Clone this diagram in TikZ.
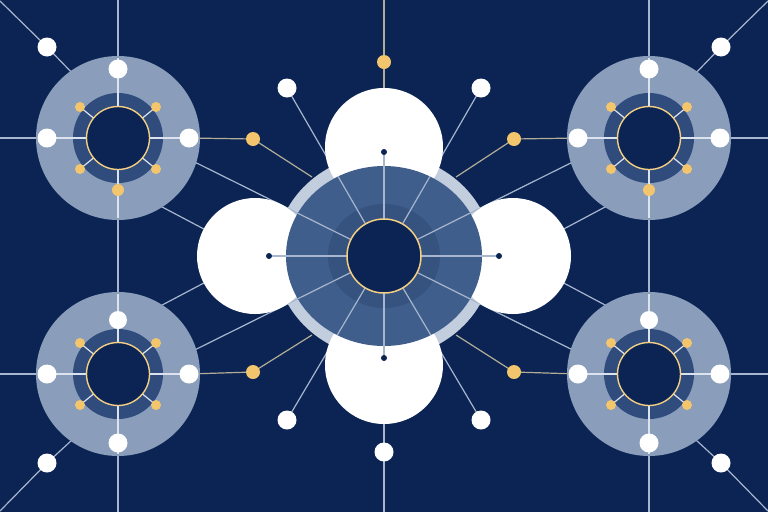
\documentclass[tikz,border=0pt]{standalone}
\usetikzlibrary{calc}
\definecolor{navy}{HTML}{0B2453}
\definecolor{clpale}{HTML}{8A9DBB}
\definecolor{clring}{HTML}{2F4C7D}
\definecolor{cmed}{HTML}{3F5E8B}
\definecolor{cdark}{HTML}{36537F}
\definecolor{cpale}{HTML}{C2CDDE}
\definecolor{gold}{HTML}{F3C66D}
\definecolor{lnlight}{HTML}{A7B6CE}
\definecolor{lntan}{HTML}{B3AD97}
\definecolor{lnpale}{HTML}{DCE3EE}
\tikzset{
  ln/.style={draw=lnlight, line width=1.2pt},
  lngold/.style={draw=lntan, line width=1.2pt},
  lnon/.style={draw=lnpale, line width=1.2pt},
  spoke/.style={draw=lnlight, line width=1.2pt},
  wdot/.style={circle, fill=white, inner sep=0pt, minimum size=19pt},
  gdot/.style={circle, fill=gold, inner sep=0pt, minimum size=14pt},
  sgdot/.style={circle, fill=gold, inner sep=0pt, minimum size=10pt},
  ndot/.style={circle, fill=navy, inner sep=0pt, minimum size=6pt},
}
\begin{document}
\begin{tikzpicture}[x=1pt,y=-1pt]
\useasboundingbox (0,0) rectangle (768,512);
\fill[navy] (0,0) rectangle (768,512);
% ---- coordinates
\coordinate (C) at (384,256);
\coordinate (TL) at (118,138); \coordinate (TR) at (649,138);
\coordinate (BL) at (118,374); \coordinate (BR) at (649,374);
\coordinate (aTL) at (118,124); \coordinate (aTR) at (649,124);
\coordinate (aBL) at (118,388); \coordinate (aBR) at (649,388);
\coordinate (gTL) at (253,139); \coordinate (gTR) at (514,139);
\coordinate (gBL) at (253,372); \coordinate (gBR) at (514,372);
\coordinate (eTL) at (312,177); \coordinate (eTR) at (456,177);
\coordinate (eBL) at (312,335); \coordinate (eBR) at (456,335);
\coordinate (wTL) at (287,88); \coordinate (wTR) at (481,88);
\coordinate (wBL) at (287,420); \coordinate (wBR) at (481,420);
\coordinate (WT) at (384,147); \coordinate (WB) at (384,365);
\coordinate (WL) at (255,256); \coordinate (WR) at (513,256);
\coordinate (dT) at (384,152); \coordinate (dB) at (384,358);
\coordinate (dL) at (269,256); \coordinate (dR) at (499,256);
\coordinate (bTL) at (130,190); \coordinate (bBL) at (130,322);
\coordinate (bTR) at (637,190); \coordinate (bBR) at (637,322);
\coordinate (topG) at (384,62); \coordinate (botW) at (384,452);
\coordinate (top0) at (384,0); \coordinate (bot0) at (384,512);
\coordinate (kTL) at (47,47); \coordinate (kTR) at (721,47);
\coordinate (kBL) at (47,463); \coordinate (kBR) at (721,463);
% ---- central pale ring
\fill[cpale] (C) ellipse [x radius=109pt, y radius=102pt];
% ---- background lines
\draw[lngold] (top0) -- (WT);
\draw[ln] (WB) -- (bot0);
\foreach \x in {118,649} \draw[ln] (\x,0) -- (\x,512);
\draw[ln] (0,138) -- (189,138); \draw[lngold] (189,138) -- (gTL);
\draw[ln] (0,374) -- (189,374); \draw[lngold] (189,374) -- (gBL);
\draw[ln] (768,138) -- (578,138); \draw[lngold] (578,138) -- (gTR);
\draw[ln] (768,374) -- (578,374); \draw[lngold] (578,374) -- (gBR);
\foreach \g/\e in {gTL/eTL,gTR/eTR,gBL/eBL,gBR/eBR} \draw[lngold] (\g) -- (\e);
\foreach \p in {aTL,aTR,aBL,aBR,wTL,wTR,wBL,wBR} \draw[ln] (C) -- (\p);
\draw[ln] (WL) -- (bTL); \draw[ln] (WL) -- (bBL);
\draw[ln] (WR) -- (bTR); \draw[ln] (WR) -- (bBR);
\draw[ln] (0,1) -- (kTL) -- (76,77);
\draw[ln] (768,1) -- (kTR) -- (692,77);
\draw[ln] (0,511) -- (kBL) -- (72,440);
\draw[ln] (768,511) -- (kBR) -- (696,440);
% ---- clusters
\foreach \n/\cx/\cy/\s in {TL/118/138/1, TR/649/138/1, BL/118/374/-1, BR/649/374/-1}{
  \fill[clpale] (\cx,\cy) circle (82pt);
  \fill[clring] (\cx,\cy) circle (45pt);
  \draw[lnon] (\cx,\cy-80) -- (\cx,\cy+80);
  \draw[lnon] (\cx-80,\cy) -- (\cx+80,\cy);
  \foreach \dx/\dy in {-38/-31,38/-31,-38/31,38/31}
    \draw[lnon] (\cx,\cy) -- (\cx+\dx,\cy+\dy);
  \filldraw[fill=navy, draw=gold!85!white, line width=1.4pt] (\cx,\cy) circle (31.5pt);
  \foreach \dx/\dy [count=\i] in {-38/-31,38/-31,-38/31,38/31}
    \node[sgdot] (\n-g\i) at (\cx+\dx,\cy+\dy) {};
  \node[wdot] (\n-l) at (\cx-71,\cy) {};
  \node[wdot] (\n-r) at (\cx+71,\cy) {};
  \node[wdot] (\n-o) at (\cx,\cy-69*\s) {};
  \ifnum\s=1
    \node[sgdot, minimum size=12pt] (\n-i) at (\cx,\cy+52) {};
  \else
    \node[wdot, minimum size=18pt] (\n-i) at (\cx,\cy-54) {};
  \fi
}
% ---- central white circles
\fill[white] (WT) circle (59pt);
\fill[white] (WB) circle (59pt);
\fill[white] (WL) circle (58pt);
\fill[white] (WR) circle (58pt);
% ---- central disks
\fill[cmed] (C) ellipse [x radius=98pt, y radius=90pt];
\fill[cdark] (C) ellipse [x radius=56pt, y radius=52pt];
\begin{scope}
  \clip (C) ellipse [x radius=98pt, y radius=90pt];
  \foreach \p in {aTL,aTR,aBL,aBR,wTL,wTR,wBL,wBR} \draw[spoke] (C) -- (\p);
\end{scope}
\foreach \p in {dT,dB,dL,dR} \draw[spoke] (C) -- (\p);
\filldraw[fill=navy, draw=gold!85!white, line width=1.5pt] (C) circle (37pt);
\foreach \p in {dT,dB,dL,dR} \node[ndot] (n-\p) at (\p) {};
% ---- dots
\foreach \p in {wTL,wTR,wBL,wBR,kTL,kTR,kBL,kBR,botW} \node[wdot] (n-\p) at (\p) {};
\foreach \p in {gTL,gTR,gBL,gBR,topG} \node[gdot] (n-\p) at (\p) {};
\end{tikzpicture}
\end{document}
